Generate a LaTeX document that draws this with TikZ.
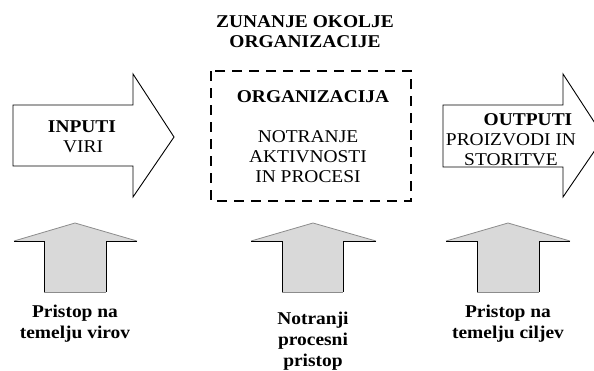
\documentclass[tikz,border=0pt]{standalone}
\usepackage{fontspec}
\setmainfont{Liberation Serif}[FakeStretch=1.08]
\definecolor{arrowfill}{HTML}{D9D9D9}
\definecolor{edgegray}{HTML}{8C8C8C}
\begin{document}
\begin{tikzpicture}[x=1pt,y=-1pt,
  lbl/.style={inner sep=0pt, align=center, font=\fontsize{18}{20}\selectfont},
  blbl/.style={inner sep=0pt, align=center, font=\fontsize{18}{20}\selectfont\bfseries},
  bottomlbl/.style={inner sep=0pt, align=center, font=\fontsize{18}{21}\selectfont\bfseries},
  bigarrow/.style={draw=black, line width=0.9pt, fill=white, line join=miter},
  dashbox/.style={draw=black, line width=2.4pt, dash pattern=on 10pt off 7pt},
  upfill/.style={fill=arrowfill, draw=none},
  upblack/.style={draw=black, line width=1pt},
  upgray/.style={draw=edgegray, line width=0.8pt}]
\useasboundingbox (0,0) rectangle (594,370);
\begin{scope}
\clip (0,0) rectangle (594,370);
% input arrow
\draw[bigarrow] (13,105) -- (133,105) -- (133,74) -- (174,137) -- (133,197) -- (133,166) -- (13,166) -- cycle;
% output arrow
\draw[bigarrow] (443,105) -- (563,105) -- (563,74) -- (604,137) -- (563,197) -- (563,167) -- (443,167) -- cycle;
\end{scope}
% dashed organisation box
\draw[dashbox] (211,71) rectangle (411,201);
% texts
\node[blbl] (env1) at (305,22) {ZUNANJE OKOLJE};
\node[blbl] (env2) at (305,42) {ORGANIZACIJE};
\node[blbl] (org) at (313,97) {ORGANIZACIJA};
\node[lbl] (act) at (308,157) {NOTRANJE\\AKTIVNOSTI\\IN PROCESI};
\node[blbl] (inp) at (82,127) {INPUTI};
\node[lbl] (viri) at (83,147) {VIRI};
\node[blbl] (outp) at (528,120) {OUTPUTI};
\node[lbl] (prod) at (511,149.5) {PROIZVODI IN\\STORITVE};
% upward arrows
\foreach \name/\hl/\sl/\ax/\sr/\hr in {ua/14/44/75/106/137, ub/251/282/313/343/376, uc/446/477/508/539/570}{
  \fill[upfill] (\hl,241) -- (\ax,223) -- (\hr,241) -- (\sr,241) -- (\sr,292) -- (\sl,292) -- (\sl,241) -- cycle;
  \draw[upgray] (\hl,241) -- (\ax,223) -- (\hr,241);
  \draw[upgray] (\sl,292) -- (\sr,292);
  \draw[upblack] (\hl,241) -- (\sl,241) -- (\sl,292);
  \draw[upblack] (\hr,241) -- (\sr,241) -- (\sr,292);
  \coordinate (\name) at (\ax,223);
}
\node[bottomlbl] (t1) at (75,323.5) {Pristop na\\temelju virov};
\node[bottomlbl] (t2) at (313,341) {Notranji\\procesni\\pristop};
\node[bottomlbl] (t3) at (508,323.5) {Pristop na\\temelju ciljev};
\end{tikzpicture}
\end{document}
